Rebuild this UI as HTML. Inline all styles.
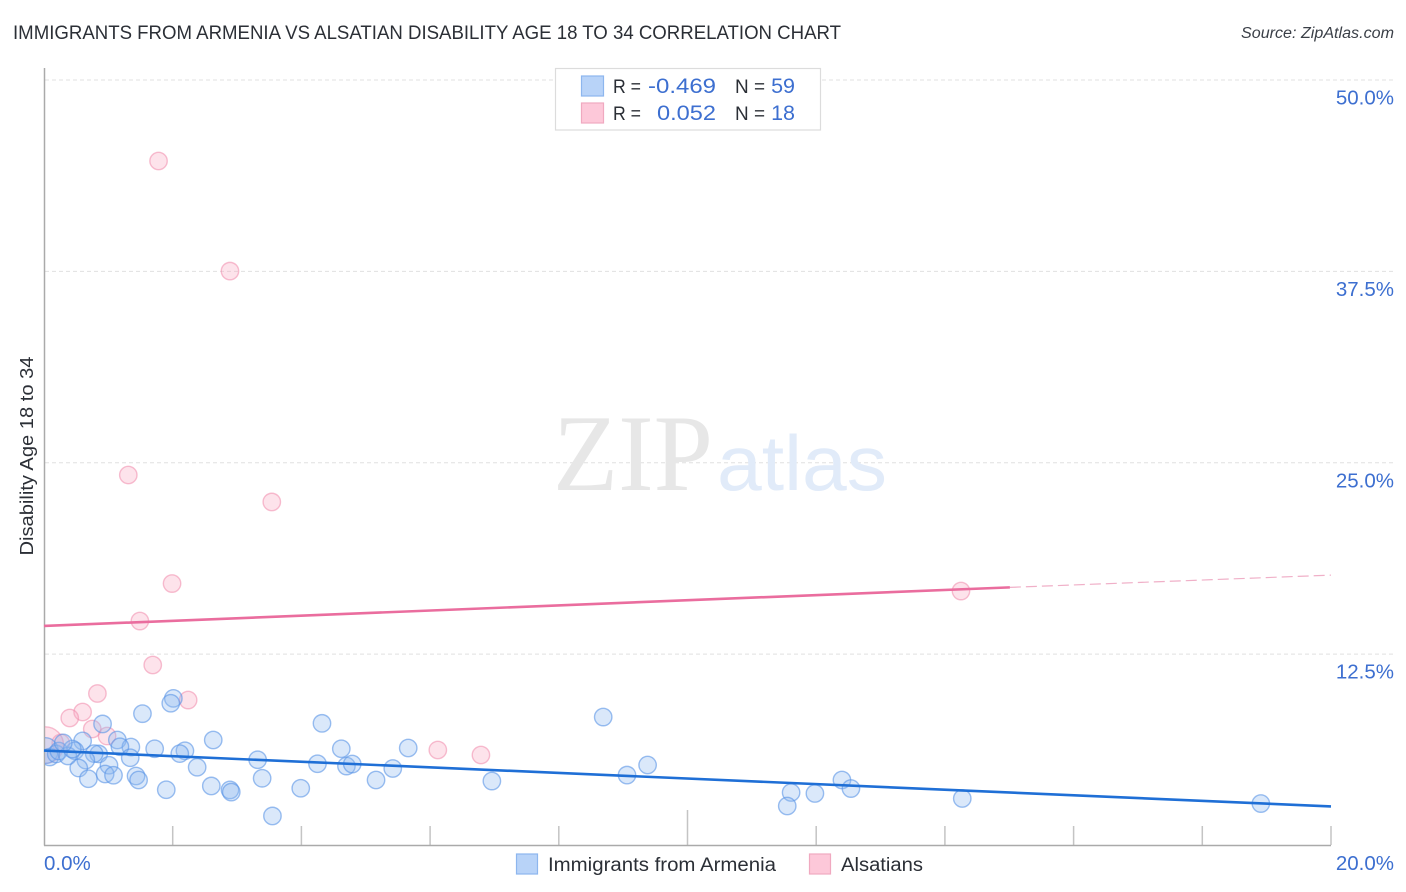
<!DOCTYPE html>
<html lang="en">
<head>
<meta charset="utf-8">
<title>Immigrants from Armenia vs Alsatian Disability Age 18 to 34 Correlation Chart</title>
<style>
html,body{margin:0;padding:0;background:#fff;width:1406px;height:892px;overflow:hidden}
svg{display:block;font-family:"Liberation Sans",sans-serif}
</style>
</head>
<body>
<svg id="chart" width="1406" height="892" viewBox="0 0 1406 892" xmlns="http://www.w3.org/2000/svg">
  <defs>
    <clipPath id="plot-clip"><rect x="45" y="60" width="1349" height="785"></rect></clipPath>
  </defs>
  <rect x="0" y="0" width="1406" height="892" fill="#ffffff"></rect>
  <text x="13" y="39" font-size="19" fill="#2b2f36" textLength="828" lengthAdjust="spacingAndGlyphs">IMMIGRANTS FROM ARMENIA VS ALSATIAN DISABILITY AGE 18 TO 34 CORRELATION CHART</text>
  <text x="1394" y="38" font-size="15.5" font-style="italic" fill="#3a3f47" text-anchor="end" textLength="153" lengthAdjust="spacingAndGlyphs">Source: ZipAtlas.com</text>

  <g id="grid"></g>

  <g>
    <text x="553" y="490" font-family="'Liberation Serif',serif" font-size="109" fill="#e7e7e7" textLength="160" lengthAdjust="spacingAndGlyphs">ZIP</text>
    <text x="717" y="490" font-size="78" fill="#e1ebf9" textLength="170" lengthAdjust="spacingAndGlyphs">atlas</text>
  </g>

  <g id="ticks"></g>
  <line x1="44.5" y1="68" x2="44.5" y2="845.5" stroke="#aaaaaa" stroke-width="1.5"></line>
  <line x1="44" y1="845.5" x2="1331" y2="845.5" stroke="#aaaaaa" stroke-width="1.5"></line>

  <g id="points" clip-path="url(#plot-clip)"></g>
  <g id="trends"></g>
  <g id="labels"></g>

  <text transform="translate(33 456) rotate(-90)" font-size="18" fill="#2b2f36" text-anchor="middle" textLength="199" lengthAdjust="spacingAndGlyphs">Disability Age 18 to 34</text>

  <g>
    <rect x="555.5" y="68.5" width="265" height="61.5" fill="#ffffff" stroke="#dcdcdc" stroke-width="1.2"></rect>
    <rect x="581.5" y="76" width="22" height="20" fill="#b8d3f8" stroke="#8db6ee" stroke-width="1.2"></rect>
    <rect x="581.5" y="103" width="22" height="20" fill="#fdc8d9" stroke="#f0a9c0" stroke-width="1.2"></rect>
    <text x="613" y="93" font-size="19.5" fill="#2b2f36" textLength="28" lengthAdjust="spacingAndGlyphs">R =</text>
    <text x="716" y="93" font-size="21.5" fill="#3d6fd0" text-anchor="end" textLength="68" lengthAdjust="spacingAndGlyphs">-0.469</text>
    <text x="735" y="93" font-size="19.5" fill="#2b2f36" textLength="30" lengthAdjust="spacingAndGlyphs">N =</text>
    <text x="795" y="93" font-size="21.5" fill="#3d6fd0" text-anchor="end">59</text>
    <text x="613" y="120" font-size="19.5" fill="#2b2f36" textLength="28" lengthAdjust="spacingAndGlyphs">R =</text>
    <text x="716" y="120" font-size="21.5" fill="#3d6fd0" text-anchor="end" textLength="59" lengthAdjust="spacingAndGlyphs">0.052</text>
    <text x="735" y="120" font-size="19.5" fill="#2b2f36" textLength="30" lengthAdjust="spacingAndGlyphs">N =</text>
    <text x="795" y="120" font-size="21.5" fill="#3d6fd0" text-anchor="end">18</text>
  </g>

  <g>
    <rect x="516.5" y="854" width="21" height="20" fill="#b8d3f8" stroke="#8db6ee" stroke-width="1.2"></rect>
    <text x="548" y="871" font-size="19" fill="#2b2f36" textLength="228" lengthAdjust="spacingAndGlyphs">Immigrants from Armenia</text>
    <rect x="809.5" y="854" width="21" height="20" fill="#fdc8d9" stroke="#f0a9c0" stroke-width="1.2"></rect>
    <text x="841" y="871" font-size="19" fill="#2b2f36" textLength="82" lengthAdjust="spacingAndGlyphs">Alsatians</text>
  </g>
</svg>
<script>
const yTickValues = [12.5, 25, 37.5, 50];
const yTickLabels = ["12.5%", "25.0%", "37.5%", "50.0%"];
const xTickValues = [2, 4, 6, 8, 10, 12, 14, 16, 18, 20];
const xEndValues = [0, 20];
const xEndLabels = ["0.0%", "20.0%"];

const armeniaX = [1.53,2.01,1.97,0.91,0.60,1.14,1.35,1.18,1.72,2.63,2.19,2.11,1.34,0.85,0.78,0.48,1.01,0.65,0.54,0.69,0.95,1.08,1.43,1.47,1.90,2.38,2.60,2.89,2.91,3.32,3.39,3.99,3.55,4.32,4.62,4.25,4.70,4.79,5.42,5.16,5.66,6.96,8.69,9.06,9.38,11.61,11.55,11.98,12.40,12.54,14.27,18.91,0.02,0.09,0.19,0.23,0.37,0.44,0.30];
const armeniaY = [8.61,9.61,9.29,7.94,6.83,6.89,6.43,6.45,6.32,6.89,6.19,6.00,5.73,5.98,6.00,6.19,5.24,5.58,5.06,4.36,4.67,4.59,4.54,4.28,3.64,5.11,3.89,3.63,3.49,5.60,4.39,3.74,1.93,7.98,6.32,5.34,5.19,5.32,5.03,4.28,6.37,4.21,8.39,4.60,5.26,3.46,2.58,3.40,4.28,3.72,3.07,2.74,6.20,5.78,5.98,6.17,5.85,6.30,6.70];
const armeniaWeights = [1,1,1,1,1,1,1,1,1,1,1,1,1,1,1,1,1,1,1,1,1,1,1,1,1,1,1,1,1,1,1,1,1,1,1,1,1,1,1,1,1,1,1,1,1,1,1,1,1,1,1,1,2.2,1,1,1,1,1,1];

const alsatianX = [1.78,2.89,1.31,3.54,1.99,1.49,1.69,0.83,2.24,0.60,0.40,0.75,0.98,0.26,0.02,6.12,6.79,14.25];
const alsatianY = [44.71,37.52,24.20,22.44,17.11,14.66,11.79,9.93,9.50,8.72,8.33,7.61,7.15,6.70,6.56,6.24,5.91,16.62];
const alsatianWeights = [1,1,1,1,1,1,1,1,1,1,1,1,1,1,4.4,1,1,1];

const armeniaTrendX = [0, 20];
const armeniaTrendY = [6.2, 2.55];
const alsatianTrendX = [0, 15.01];
const alsatianTrendY = [14.34, 16.86];
const alsatianExtendX = [15.01, 20];
const alsatianExtendY = [16.86, 17.66];

const NS = "http://www.w3.org/2000/svg";
function xScale(v) { return 44 + v * 64.35; }
function yScale(v) { return 845.5 - v * 15.31; }
function make(tag, attrs, parent) {
  const el = document.createElementNS(NS, tag);
  for (const k in attrs) el.setAttribute(k, attrs[k]);
  parent.appendChild(el);
  return el;
}

const gridGroup = document.getElementById("grid");
const tickGroup = document.getElementById("ticks");
const labelGroup = document.getElementById("labels");
const pointGroup = document.getElementById("points");
const trendGroup = document.getElementById("trends");

yTickValues.forEach(function (v, i) {
  const line = make("line", { x1: 45, x2: 1394, y1: yScale(v), y2: yScale(v), stroke: "#e0e0e0", "stroke-width": 1, "stroke-dasharray": "4 3" }, gridGroup);
  
  
  const label = make("text", { x: 1394, y: yScale(v) + 24.5, "font-size": 20.5, fill: "#3d6fd0", "text-anchor": "end" }, labelGroup);
  label.textContent = yTickLabels[i];
  
  
});

xTickValues.forEach(function (v) {
  const top = v === 10 ? 810 : 826;
  const tick = make("line", { x1: xScale(v), x2: xScale(v), y1: top, y2: 845, stroke: "#c4c4c4", "stroke-width": 1.5 }, tickGroup);
  
  
});

xEndValues.forEach(function (v, i) {
  const label = make("text", { x: i === 0 ? xScale(v) : 1394, y: 870, "font-size": 20.5, fill: "#3d6fd0", "text-anchor": i === 0 ? "start" : "end" }, labelGroup);
  label.textContent = xEndLabels[i];
  
  
});

alsatianX.forEach(function (v, i) {
  const pt = make("circle", { cx: xScale(v), cy: yScale(alsatianY[i]), r: 8.7 * Math.sqrt(alsatianWeights[i]), fill: "#f9a8c2", "fill-opacity": 0.32, stroke: "#f08bac", "stroke-opacity": 0.55, "stroke-width": 1.4 }, pointGroup);
  
  
});

armeniaX.forEach(function (v, i) {
  const pt = make("circle", { cx: xScale(v), cy: yScale(armeniaY[i]), r: 8.7 * Math.sqrt(armeniaWeights[i]), fill: "#8fb9f0", "fill-opacity": 0.33, stroke: "#5a95e6", "stroke-opacity": 0.6, "stroke-width": 1.4 }, pointGroup);
  
  
});

const dashLine = make("line", { x1: xScale(alsatianExtendX[0]), y1: yScale(alsatianExtendY[0]), x2: xScale(alsatianExtendX[1]), y2: yScale(alsatianExtendY[1]), stroke: "#f0b0c8", "stroke-width": 1.2, "stroke-dasharray": "11 5" }, trendGroup);



const pinkLine = make("line", { x1: xScale(alsatianTrendX[0]), y1: yScale(alsatianTrendY[0]), x2: xScale(alsatianTrendX[1]), y2: yScale(alsatianTrendY[1]), stroke: "#ea6d9e", "stroke-width": 2.6 }, trendGroup);



const blueLine = make("line", { x1: xScale(armeniaTrendX[0]), y1: yScale(armeniaTrendY[0]), x2: xScale(armeniaTrendX[1]), y2: yScale(armeniaTrendY[1]), stroke: "#1f6fd6", "stroke-width": 2.6 }, trendGroup);


</script>
</body>
</html>
